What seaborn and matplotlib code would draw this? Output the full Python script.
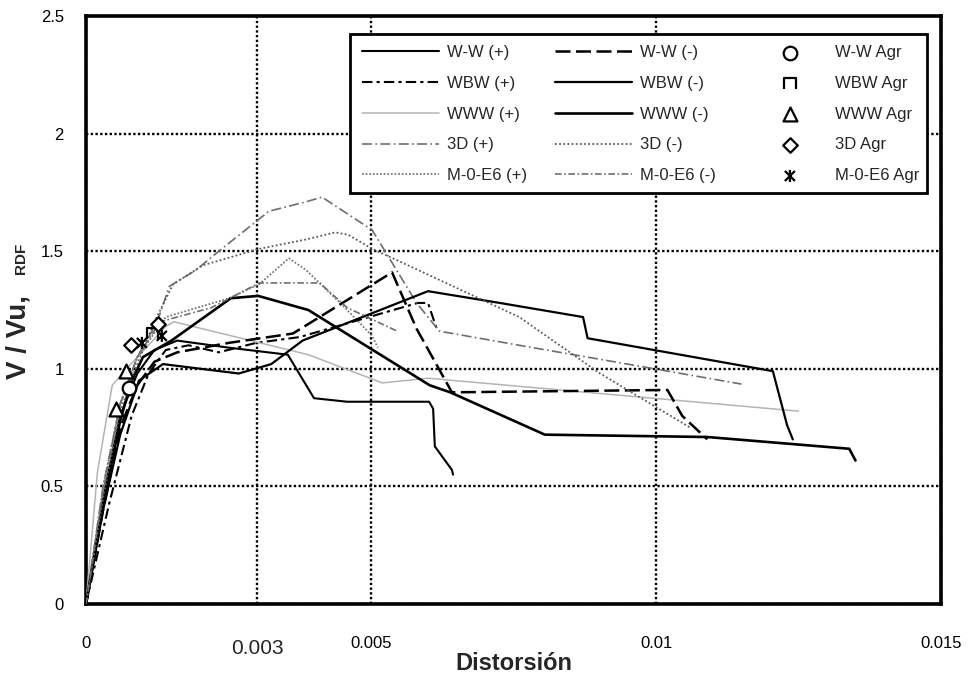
import matplotlib
matplotlib.use("Agg")
import matplotlib.pyplot as plt
from matplotlib.path import Path
from matplotlib.patches import Rectangle
import pandas as pd
import seaborn as sns

# ---- envelope curves: drift ratio vs. normalised shear V/Vu (RDF) ----
ww_pos_x = [0, 0.0003, 0.0006, 0.0009, 0.0012, 0.0016, 0.0025, 0.00354, 0.0040, 0.00458, 0.00602, 0.00609, 0.00612, 0.00642, 0.00644]
ww_pos_y = [0, 0.45, 0.80, 0.98, 1.08, 1.12, 1.09, 1.06, 0.875, 0.86, 0.86, 0.83, 0.67, 0.57, 0.55]
ww_neg_x = [0, 0.0003, 0.0006, 0.0009, 0.0012, 0.0016, 0.0025, 0.00363, 0.00537, 0.0058, 0.00642, 0.0102, 0.01046, 0.0109]
ww_neg_y = [0, 0.40, 0.75, 0.93, 1.03, 1.07, 1.11, 1.15, 1.41, 1.17, 0.90, 0.91, 0.80, 0.70]
wbw_pos_x = [0, 0.0004, 0.0008, 0.0011, 0.0014, 0.0018, 0.00233, 0.00298, 0.00375, 0.00582, 0.0060, 0.00616]
wbw_pos_y = [0, 0.42, 0.80, 0.98, 1.08, 1.10, 1.07, 1.11, 1.135, 1.28, 1.28, 1.165]
wbw_neg_x = [0, 0.0003, 0.0006, 0.00093, 0.00135, 0.00268, 0.00325, 0.0038, 0.0060, 0.00726, 0.00872, 0.0088, 0.01205, 0.0123, 0.0124]
wbw_neg_y = [0, 0.40, 0.72, 0.95, 1.02, 0.98, 1.02, 1.12, 1.33, 1.28, 1.22, 1.13, 0.99, 0.76, 0.70]
www_pos_x = [0, 0.0002, 0.00046, 0.00075, 0.0014, 0.00154, 0.0039, 0.0052, 0.0060, 0.0125]
www_pos_y = [0, 0.56, 0.93, 1.01, 1.18, 1.20, 1.06, 0.94, 0.96, 0.82]
www_neg_x = [0, 0.0003, 0.0006, 0.0008, 0.0010, 0.0015, 0.00254, 0.00302, 0.0039, 0.00603, 0.00639, 0.00805, 0.0109, 0.01339, 0.0135]
www_neg_y = [0, 0.42, 0.78, 0.95, 1.05, 1.12, 1.30, 1.31, 1.25, 0.93, 0.90, 0.72, 0.71, 0.66, 0.61]
d3_pos_x = [0, 0.0003, 0.0006, 0.0009, 0.00125, 0.00146, 0.00193, 0.00233, 0.00321, 0.00386, 0.00414, 0.00502, 0.0058, 0.0062, 0.0076, 0.0095, 0.0115]
d3_pos_y = [0, 0.50, 0.85, 1.05, 1.20, 1.35, 1.42, 1.50, 1.67, 1.71, 1.73, 1.59, 1.28, 1.16, 1.10, 1.02, 0.935]
d3_neg_x = [0, 0.0003, 0.0006, 0.0009, 0.0012, 0.00153, 0.00205, 0.00304, 0.00386, 0.00437, 0.0046, 0.00502, 0.00556, 0.0076, 0.00902, 0.0106]
d3_neg_y = [0, 0.45, 0.82, 1.02, 1.20, 1.36, 1.44, 1.51, 1.55, 1.58, 1.57, 1.51, 1.45, 1.22, 0.98, 0.75]
m_pos_x = [0, 0.0003, 0.0006, 0.0009, 0.0014, 0.00251, 0.00304, 0.00356, 0.00386, 0.00446, 0.00502, 0.00512]
m_pos_y = [0, 0.50, 0.85, 1.05, 1.22, 1.30, 1.36, 1.47, 1.42, 1.28, 1.14, 1.09]
m_neg_x = [0, 0.0003, 0.0006, 0.0009, 0.0013, 0.0022, 0.00304, 0.0041, 0.00458, 0.00546]
m_neg_y = [0, 0.48, 0.85, 1.05, 1.20, 1.26, 1.365, 1.365, 1.26, 1.16]

# ---- first cracking ("Agr") points ----
ww_agr_x, ww_agr_y = [0.00075], [0.92]
wbw_agr_x, wbw_agr_y = [0.00116], [1.15]
www_agr_x, www_agr_y = [0.00053, 0.00070], [0.83, 0.99]
d3_agr_x, d3_agr_y = [0.00079, 0.00126], [1.10, 1.19]
m_agr_x, m_agr_y = [0.00098, 0.00133], [1.11, 1.14]

pos_labels = ["W-W (+)", "WBW (+)", "WWW (+)", "3D (+)", "M-0-E6 (+)"]
neg_labels = ["W-W (-)", "WBW (-)", "WWW (-)", "3D (-)", "M-0-E6 (-)"]
agr_labels = ["W-W Agr", "WBW Agr", "WWW Agr", "3D Agr", "M-0-E6 Agr"]

x_ticks = [0, 0.005, 0.01, 0.015]
x_tick_labels = ["0", "0.005", "0.01", "0.015"]
y_ticks = [0, 0.5, 1, 1.5, 2, 2.5]
y_tick_labels = ["0", "0.5", "1", "1.5", "2", "2.5"]
extra_grid_x = 0.003

sns.set_style("white")
plt.rcParams["font.family"] = ["Liberation Sans", "DejaVu Sans"]

fig = plt.figure(figsize=(9.72, 6.79), dpi=100)
ax = fig.add_axes([86 / 972, 1 - 604 / 679, 855 / 972, 588 / 679])

# line styles of each envelope
line_specs = [
    (pos_labels[0], ww_pos_x, ww_pos_y, dict(color="black", lw=1.5, ls="-")),
    (pos_labels[1], wbw_pos_x, wbw_pos_y, dict(color="black", lw=1.5, ls=(0, (5, 2, 1.5, 2)))),
    (pos_labels[2], www_pos_x, www_pos_y, dict(color="#b4b4b4", lw=1.1, ls="-")),
    (pos_labels[3], d3_pos_x, d3_pos_y, dict(color="#6e6e6e", lw=1.2, ls=(0, (6, 2, 1, 2)))),
    (pos_labels[4], m_pos_x, m_pos_y, dict(color="#7a7a7a", lw=1.3, ls=(0, (1, 1)))),
    (neg_labels[0], ww_neg_x, ww_neg_y, dict(color="black", lw=1.8, ls=(0, (6, 2.2)))),
    (neg_labels[1], wbw_neg_x, wbw_neg_y, dict(color="black", lw=1.6, ls="-")),
    (neg_labels[2], www_neg_x, www_neg_y, dict(color="black", lw=1.9, ls="-")),
    (neg_labels[3], d3_neg_x, d3_neg_y, dict(color="#5a5a5a", lw=1.3, ls=(0, (1, 1.3)))),
    (neg_labels[4], m_neg_x, m_neg_y, dict(color="#6e6e6e", lw=1.2, ls=(0, (4, 1.5, 1, 1.5)))),
]

line_handles = {}
for label, xs, ys, st in line_specs:
    df = pd.DataFrame({"Distorsion": xs, "V_Vu": ys})
    sns.lineplot(data=df, x="Distorsion", y="V_Vu", sort=False, estimator=None,
                 ax=ax, label=label, zorder=3, **st)
    line_handles[label] = ax.get_lines()[-1]

# marker shapes
cap_square = Path([(-1, -1), (-1, 1), (1, 1), (1, -1)],
                  [Path.MOVETO, Path.LINETO, Path.LINETO, Path.LINETO])
star6 = Path([(-1, -1), (1, 1), (-1, 1), (1, -1), (0, -1.2), (0, 1.2)],
             [Path.MOVETO, Path.LINETO, Path.MOVETO, Path.LINETO, Path.MOVETO, Path.LINETO])

agr_specs = [
    (agr_labels[0], ww_agr_x, ww_agr_y, dict(marker="o", s=95, facecolor="white", edgecolor="black")),
    (agr_labels[1], wbw_agr_x, wbw_agr_y, dict(marker=cap_square, s=65, facecolor="none", edgecolor="black")),
    (agr_labels[2], www_agr_x, www_agr_y, dict(marker="^", s=100, facecolor="white", edgecolor="black")),
    (agr_labels[3], d3_agr_x, d3_agr_y, dict(marker="D", s=55, facecolor="white", edgecolor="black")),
    (agr_labels[4], m_agr_x, m_agr_y, dict(marker=star6, s=75, facecolor="none", edgecolor="black")),
]
agr_handles = {}
for label, xs, ys, st in agr_specs:
    df = pd.DataFrame({"Distorsion": xs, "V_Vu": ys})
    sns.scatterplot(data=df, x="Distorsion", y="V_Vu", ax=ax, label=label,
                    linewidth=1.6, zorder=4, **st)
    agr_handles[label] = ax.collections[-1]

ax.get_legend().remove()

# axes, grid and frame
ax.set_xlim(0, 0.015)
ax.set_ylim(0, 2.5)
ax.set_xticks(x_ticks)
ax.set_xticklabels(x_tick_labels)
ax.set_yticks(y_ticks)
ax.set_yticklabels(y_tick_labels)
ax.tick_params(axis="both", length=0, labelsize=12, colors="black")
ax.tick_params(axis="x", pad=23)
ax.tick_params(axis="y", pad=16)
ax.grid(True, color="black", linestyle=(0, (1, 1)), linewidth=1.7, zorder=1)
ax.axvline(extra_grid_x, color="black", linestyle=(0, (1, 1)), linewidth=1.7, zorder=1)
ax.set_axisbelow(True)
for sp in ax.spines.values():
    sp.set_visible(True)
    sp.set_color("black")
    sp.set_linewidth(2.6)
ax.set_xlabel("")
ax.set_ylabel("")

ax.text(extra_grid_x, -0.075, "0.003", transform=ax.get_xaxis_transform(),
        ha="center", va="center", fontsize=15)

fig.text(513.5 / 972, 1 - 663 / 679, "Distorsión", ha="center", va="center",
         fontsize=17, fontweight="bold")
fig.text(19 / 972, 1 - 379 / 679, "V / Vu,", rotation=90, ha="center", va="bottom",
         fontsize=20, fontweight="bold")
fig.text(21 / 972, 1 - 274 / 679, "RDF", rotation=90, ha="center", va="bottom",
         fontsize=11, fontweight="bold")

# legend: framed box holding three columns
box_x0, box_x1 = (350 - 86) / 855, (927 - 86) / 855
box_y0, box_y1 = (604 - 193) / 588, (604 - 34) / 588
ax.add_patch(Rectangle((box_x0, box_y0), box_x1 - box_x0, box_y1 - box_y0,
                       transform=ax.transAxes, facecolor="white", edgecolor="black",
                       linewidth=2.0, zorder=5))

leg_kw = dict(frameon=False, loc="upper left", borderpad=0, borderaxespad=0,
              fontsize=12, labelspacing=0.95, bbox_transform=fig.transFigure)
top = 1 - 45 / 679
leg1 = ax.legend([line_handles[l] for l in pos_labels], pos_labels,
                 bbox_to_anchor=(362 / 972, top), handlelength=4.6, handletextpad=0.48, **leg_kw)
leg1.set_zorder(6)
ax.add_artist(leg1)
leg2 = ax.legend([line_handles[l] for l in neg_labels], neg_labels,
                 bbox_to_anchor=(555 / 972, top), handlelength=4.6, handletextpad=0.48, **leg_kw)
leg2.set_zorder(6)
ax.add_artist(leg2)
leg3 = ax.legend([agr_handles[l] for l in agr_labels], agr_labels,
                 bbox_to_anchor=(776 / 972, top), handlelength=1.67, handletextpad=1.86,
                 scatterpoints=1, **leg_kw)
leg3.set_zorder(6)

fig.savefig("out.png", dpi=100)
